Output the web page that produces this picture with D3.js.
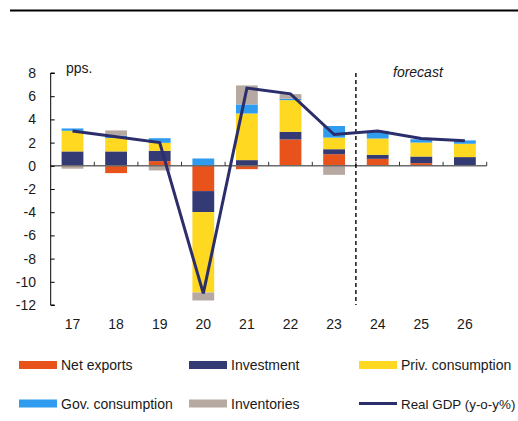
<!DOCTYPE html>
<html>
<head>
<meta charset="utf-8">
<script src="https://cdn.jsdelivr.net/npm/d3@7"></script>
<style>
  html, body { margin: 0; padding: 0; background: #fff; }
  svg { display: block; }
  text { font-family: "Liberation Sans", Arial, sans-serif; fill: #1a1a1a; }
</style>
</head>
<body>
<svg id="chart" width="518" height="421"></svg>
<script>
// Contributions to real GDP growth, percentage points
const years = ["17", "18", "19", "20", "21", "22", "23", "24", "25", "26"];
const netExports  = [-0.05, -0.63, 0.40, -2.18, -0.29, 2.27, 1.00, 0.60, 0.23, 0.03];
const investment  = [1.24, 1.24, 0.89, -1.81, 0.49, 0.66, 0.43, 0.34, 0.57, 0.72];
const privCons    = [1.78, 1.15, 0.69, -6.93, 4.02, 2.73, 1.00, 1.41, 1.20, 1.15];
const govCons     = [0.20, 0.20, 0.40, 0.63, 0.78, 0.12, 1.00, 0.66, 0.29, 0.29];
const inventories = [-0.20, 0.46, -0.40, -0.69, 1.64, 0.40, -0.78, 0.00, 0.00, 0.00];
const realGdp     = [3.0, 2.5, 2.0, -11.0, 6.7, 6.2, 2.7, 3.0, 2.35, 2.15];
const yTicks = [8, 6, 4, 2, 0, -2, -4, -6, -8, -10, -12];
const forecastStart = "24";

const series = [
  { key: "netExports",  label: "Net exports",       values: netExports,  color: "#e8521b" },
  { key: "investment",  label: "Investment",        values: investment,  color: "#343a73" },
  { key: "privCons",    label: "Priv. consumption", values: privCons,    color: "#ffd822" },
  { key: "govCons",     label: "Gov. consumption",  values: govCons,     color: "#2f9cf0" },
  { key: "inventories", label: "Inventories",       values: inventories, color: "#b6a9a1" }
];
const lineColor = "#2b2e6a";

const rows = years.map((yr, i) => {
  const r = { year: yr };
  series.forEach(s => { r[s.key] = s.values[i]; });
  return r;
});

const svg = d3.select("#chart");

const x = d3.scaleBand().domain(years).range([50.7, 486.7])
  .paddingInner(0.5).paddingOuter(0.25);
const y = d3.scaleLinear().domain([-12, 8]).range([305, 73]);

// header rule
svg.append("line").attr("x1", 10).attr("x2", 518).attr("y1", 10.5).attr("y2", 10.5)
  .attr("stroke", "#000").attr("stroke-width", 2.2);

// stacked bars
const stack = d3.stack().keys(series.map(s => s.key)).offset(d3.stackOffsetDiverging);
const layers = stack(rows);
svg.append("g").selectAll("g").data(layers).join("g")
  .attr("fill", (d, i) => series[i].color)
  .selectAll("rect").data(d => d).join("rect")
  .attr("x", d => x(d.data.year))
  .attr("width", x.bandwidth())
  .attr("y", d => y(Math.max(d[0], d[1])))
  .attr("height", d => Math.abs(y(d[0]) - y(d[1])));

// zero line with category separators
const x0 = x.range()[0], x1 = x.range()[1];
svg.append("line").attr("x1", x0).attr("x2", x1).attr("y1", y(0)).attr("y2", y(0))
  .attr("stroke", "#6b6b6b").attr("stroke-width", 1.6);
svg.append("g").selectAll("line").data(d3.range(1, years.length + 1)).join("line")
  .attr("x1", i => x0 + i * x.step()).attr("x2", i => x0 + i * x.step())
  .attr("y1", y(0)).attr("y2", y(0) - 4)
  .attr("stroke", "#333").attr("stroke-width", 1);

// y axis
const yAxis = d3.axisRight(y).tickValues(yTicks).tickSize(4).tickFormat("");
const ga = svg.append("g").attr("transform", `translate(${x0},0)`).call(yAxis);
ga.select(".domain").attr("stroke", "#000").attr("stroke-width", 1).attr("d", `M4,${y(8)}H0V${y(-12)}H4`);
ga.selectAll(".tick line").attr("stroke", "#000");
svg.append("g").selectAll("text").data(yTicks).join("text")
  .attr("x", 36).attr("y", d => y(d) + 5)
  .attr("text-anchor", "end").attr("font-size", 14)
  .text(d => d);

// x labels
svg.append("g").selectAll("text").data(years).join("text")
  .attr("x", d => x(d) + x.bandwidth() / 2).attr("y", 329)
  .attr("text-anchor", "middle").attr("font-size", 14)
  .text(d => d);

// forecast divider
const xf = x(forecastStart) - x.step() * x.paddingInner() / 2;
svg.append("line").attr("x1", xf).attr("x2", xf).attr("y1", y(8)).attr("y2", y(-12))
  .attr("stroke", "#000").attr("stroke-width", 1.4).attr("stroke-dasharray", "4,3");
svg.append("text").attr("x", 393).attr("y", 77).attr("font-size", 14)
  .attr("font-style", "italic").text("forecast");
svg.append("text").attr("x", 66).attr("y", 73).attr("font-size", 14).text("pps.");

// real GDP line
const line = d3.line().x((d, i) => x(years[i]) + x.bandwidth() / 2).y(d => y(d));
svg.append("path").datum(realGdp).attr("d", line)
  .attr("fill", "none").attr("stroke", lineColor).attr("stroke-width", 3)
  .attr("stroke-linejoin", "miter");

// legend
const legendItems = [
  { label: "Net exports", color: series[0].color, type: "rect", col: 0, row: 0 },
  { label: "Investment", color: series[1].color, type: "rect", col: 1, row: 0 },
  { label: "Priv. consumption", color: series[2].color, type: "rect", col: 2, row: 0 },
  { label: "Gov. consumption", color: series[3].color, type: "rect", col: 0, row: 1 },
  { label: "Inventories", color: series[4].color, type: "rect", col: 1, row: 1 },
  { label: "Real GDP (y-o-y%)", color: lineColor, type: "line", col: 2, row: 1 }
];
const colX = [19, 189, 359], rowY = [365, 403.5];
const lg = svg.append("g").selectAll("g").data(legendItems).join("g")
  .attr("transform", d => `translate(${colX[d.col]},${rowY[d.row]})`);
lg.filter(d => d.type === "rect").append("rect")
  .attr("x", 0).attr("y", -4).attr("width", 38).attr("height", 8).attr("fill", d => d.color);
lg.filter(d => d.type === "line").append("line")
  .attr("x1", 0).attr("x2", 38).attr("y1", 0).attr("y2", 0)
  .attr("stroke", d => d.color).attr("stroke-width", 3);
lg.append("text").attr("x", 42).attr("y", 5).attr("font-size", 14).text(d => d.label)
  .filter(d => d.type === "line").attr("font-size", 13.4);
</script>
</body>
</html>
